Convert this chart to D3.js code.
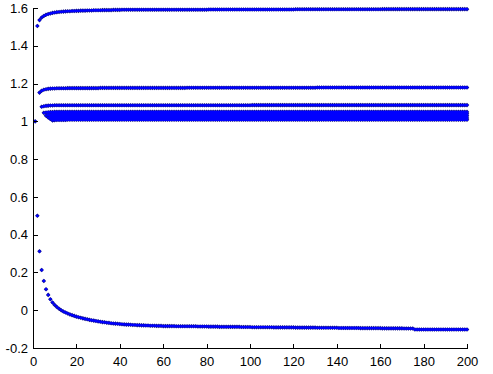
<!DOCTYPE html>
<html><head><meta charset="utf-8">
<script src="https://cdn.jsdelivr.net/npm/d3@7"></script>
<style>html,body{margin:0;padding:0;background:#fff;}svg{display:block;}</style>
</head><body><svg id="chart" width="493" height="374"></svg>
<script>
// Tick values and labels
const xTicks = [0,20,40,60,80,100,120,140,160,180,200];
const xTickLabels = ["0","20","40","60","80","100","120","140","160","180","200"];
const yTicks = [-0.2,0,0.2,0.4,0.6,0.8,1,1.2,1.4,1.6];
const yTickLabels = ["-0.2","0","0.2","0.4","0.6","0.8","1","1.2","1.4","1.6"];

// First x index of each series (values continue to x = 200)
const seriesStart = [1,2,3,4,5,6,7,8,9,2];

const vAt1 = [1.000];
const vTop = [
1.505,1.536,1.550,1.558,1.564,1.568,1.571,1.574,1.576,
1.578,1.579,1.580,1.581,1.582,1.583,1.583,1.584,1.584,1.585,
1.585,1.586,1.586,1.586,1.587,1.587,1.587,1.588,1.588,1.588,
1.588,1.589,1.589,1.589,1.589,1.589,1.590,1.590,1.590,1.590,
1.591,1.591,1.591,1.591,1.591,1.591,1.591,1.591,1.591,1.591,
1.591,1.591,1.591,1.591,1.591,1.591,1.591,1.591,1.591,1.591,
1.591,1.591,1.591,1.591,1.591,1.591,1.591,1.591,1.591,1.591,
1.591,1.591,1.591,1.591,1.591,1.591,1.591,1.591,1.591,1.591,
1.592,1.592,1.592,1.592,1.592,1.592,1.592,1.592,1.592,1.592,
1.592,1.592,1.592,1.592,1.592,1.592,1.592,1.592,1.592,1.592,
1.592,1.592,1.592,1.592,1.592,1.592,1.592,1.592,1.592,1.592,
1.592,1.592,1.592,1.592,1.592,1.592,1.592,1.592,1.592,1.592,
1.593,1.593,1.593,1.593,1.593,1.593,1.593,1.593,1.593,1.593,
1.593,1.593,1.593,1.593,1.593,1.593,1.593,1.593,1.593,1.593,
1.593,1.593,1.593,1.593,1.593,1.593,1.593,1.593,1.593,1.593,
1.593,1.593,1.593,1.593,1.593,1.593,1.593,1.593,1.593,1.593,
1.594,1.594,1.594,1.594,1.594,1.594,1.594,1.594,1.594,1.594,
1.594,1.594,1.594,1.594,1.594,1.594,1.594,1.594,1.594,1.594,
1.594,1.594,1.594,1.594,1.594,1.594,1.594,1.594,1.594,1.594,
1.594,1.594,1.594,1.594,1.594,1.594,1.594,1.594,1.594,1.594];
const vS2 = [
1.152,1.162,1.167,1.170,1.172,1.173,1.174,1.174,
1.175,1.175,1.175,1.175,1.175,1.176,1.176,1.176,1.176,1.176,
1.176,1.176,1.176,1.176,1.176,1.176,1.176,1.176,1.176,1.176,
1.177,1.177,1.177,1.177,1.177,1.177,1.177,1.177,1.177,1.177,
1.177,1.177,1.177,1.177,1.177,1.177,1.177,1.177,1.177,1.177,
1.177,1.177,1.177,1.177,1.177,1.177,1.177,1.177,1.177,1.177,
1.177,1.177,1.177,1.177,1.177,1.177,1.177,1.177,1.177,1.177,
1.178,1.178,1.178,1.178,1.178,1.178,1.178,1.178,1.178,1.178,
1.178,1.178,1.178,1.178,1.178,1.178,1.178,1.178,1.178,1.178,
1.178,1.178,1.178,1.178,1.178,1.178,1.178,1.178,1.178,1.178,
1.178,1.178,1.178,1.178,1.178,1.178,1.178,1.178,1.178,1.178,
1.178,1.178,1.178,1.178,1.178,1.178,1.178,1.178,1.178,1.178,
1.178,1.178,1.178,1.178,1.178,1.178,1.178,1.178,1.178,1.178,
1.179,1.179,1.179,1.179,1.179,1.179,1.179,1.179,1.179,1.179,
1.179,1.179,1.179,1.179,1.179,1.179,1.179,1.179,1.179,1.179,
1.179,1.179,1.179,1.179,1.179,1.179,1.179,1.179,1.179,1.179,
1.179,1.179,1.179,1.179,1.179,1.179,1.179,1.179,1.179,1.179,
1.179,1.179,1.179,1.179,1.179,1.179,1.179,1.179,1.179,1.179,
1.179,1.179,1.179,1.179,1.179,1.179,1.179,1.179,1.179,1.179,
1.179,1.179,1.179,1.179,1.179,1.179,1.179,1.179,1.179,1.179];
const vS3 = [
1.077,1.080,1.082,1.083,1.084,1.084,1.085,
1.085,1.085,1.085,1.085,1.085,1.085,1.085,1.085,1.085,1.085,
1.085,1.085,1.085,1.085,1.085,1.085,1.085,1.085,1.085,1.085,
1.085,1.085,1.085,1.085,1.085,1.085,1.085,1.085,1.085,1.085,
1.085,1.085,1.085,1.085,1.085,1.085,1.085,1.085,1.085,1.085,
1.085,1.085,1.085,1.085,1.085,1.085,1.085,1.085,1.085,1.085,
1.085,1.085,1.085,1.085,1.085,1.085,1.085,1.085,1.085,1.085,
1.085,1.085,1.085,1.085,1.085,1.085,1.085,1.085,1.085,1.085,
1.085,1.085,1.085,1.085,1.085,1.085,1.085,1.085,1.085,1.085,
1.085,1.085,1.085,1.085,1.085,1.085,1.085,1.085,1.085,1.085,
1.086,1.086,1.086,1.086,1.086,1.086,1.086,1.086,1.086,1.086,
1.086,1.086,1.086,1.086,1.086,1.086,1.086,1.086,1.086,1.086,
1.086,1.086,1.086,1.086,1.086,1.086,1.086,1.086,1.086,1.086,
1.086,1.086,1.086,1.086,1.086,1.086,1.086,1.086,1.086,1.086,
1.086,1.086,1.086,1.086,1.086,1.086,1.086,1.086,1.086,1.086,
1.086,1.086,1.086,1.086,1.086,1.086,1.086,1.086,1.086,1.086,
1.086,1.086,1.086,1.086,1.086,1.086,1.086,1.086,1.086,1.086,
1.086,1.086,1.086,1.086,1.086,1.086,1.086,1.086,1.086,1.086,
1.086,1.086,1.086,1.086,1.086,1.086,1.086,1.086,1.086,1.086,
1.086,1.086,1.086,1.086,1.086,1.086,1.086,1.086,1.086,1.086];
const vB1 = [
1.045,1.047,1.048,1.049,1.049,1.050,
1.050,1.050,1.050,1.050,1.050,1.050,1.050,1.050,1.050,1.050,
1.050,1.050,1.050,1.050,1.050,1.050,1.050,1.050,1.050,1.050,
1.050,1.050,1.050,1.050,1.050,1.050,1.050,1.050,1.050,1.050,
1.050,1.050,1.050,1.050,1.050,1.050,1.050,1.050,1.050,1.050,
1.050,1.050,1.050,1.050,1.050,1.050,1.050,1.050,1.050,1.050,
1.050,1.050,1.050,1.050,1.050,1.050,1.050,1.050,1.050,1.050,
1.050,1.050,1.050,1.050,1.050,1.050,1.050,1.050,1.050,1.050,
1.050,1.050,1.050,1.050,1.050,1.050,1.050,1.050,1.050,1.050,
1.050,1.050,1.050,1.050,1.050,1.050,1.050,1.050,1.050,1.050,
1.050,1.050,1.050,1.050,1.050,1.050,1.050,1.050,1.050,1.050,
1.050,1.050,1.050,1.050,1.050,1.050,1.050,1.050,1.050,1.050,
1.050,1.050,1.050,1.050,1.050,1.050,1.050,1.050,1.050,1.050,
1.050,1.050,1.050,1.050,1.050,1.050,1.050,1.050,1.050,1.050,
1.050,1.050,1.050,1.050,1.050,1.050,1.050,1.050,1.050,1.050,
1.050,1.050,1.050,1.050,1.050,1.050,1.050,1.050,1.050,1.050,
1.050,1.050,1.050,1.050,1.050,1.050,1.050,1.050,1.050,1.050,
1.050,1.050,1.050,1.050,1.050,1.050,1.050,1.050,1.050,1.050,
1.050,1.050,1.050,1.050,1.050,1.050,1.050,1.050,1.050,1.050,
1.050,1.050,1.050,1.050,1.050,1.050,1.050,1.050,1.050,1.050];
const vB2 = [
1.030,1.034,1.036,1.037,1.038,
1.039,1.039,1.039,1.039,1.039,1.040,1.040,1.040,1.040,1.040,
1.040,1.040,1.040,1.040,1.040,1.040,1.040,1.040,1.040,1.040,
1.040,1.040,1.040,1.040,1.040,1.040,1.040,1.040,1.040,1.040,
1.040,1.040,1.040,1.040,1.040,1.040,1.040,1.040,1.040,1.040,
1.040,1.040,1.040,1.040,1.040,1.040,1.040,1.040,1.040,1.040,
1.040,1.040,1.040,1.040,1.040,1.040,1.040,1.040,1.040,1.040,
1.040,1.040,1.040,1.040,1.040,1.040,1.040,1.040,1.040,1.040,
1.040,1.040,1.040,1.040,1.040,1.040,1.040,1.040,1.040,1.040,
1.040,1.040,1.040,1.040,1.040,1.040,1.040,1.040,1.040,1.040,
1.040,1.040,1.040,1.040,1.040,1.040,1.040,1.040,1.040,1.040,
1.040,1.040,1.040,1.040,1.040,1.040,1.040,1.040,1.040,1.040,
1.040,1.040,1.040,1.040,1.040,1.040,1.040,1.040,1.040,1.040,
1.040,1.040,1.040,1.040,1.040,1.040,1.040,1.040,1.040,1.040,
1.040,1.040,1.040,1.040,1.040,1.040,1.040,1.040,1.040,1.040,
1.040,1.040,1.040,1.040,1.040,1.040,1.040,1.040,1.040,1.040,
1.040,1.040,1.040,1.040,1.040,1.040,1.040,1.040,1.040,1.040,
1.040,1.040,1.040,1.040,1.040,1.040,1.040,1.040,1.040,1.040,
1.040,1.040,1.040,1.040,1.040,1.040,1.040,1.040,1.040,1.040,
1.040,1.040,1.040,1.040,1.040,1.040,1.040,1.040,1.040,1.040];
const vB3 = [
1.020,1.023,1.025,1.026,
1.027,1.027,1.027,1.027,1.027,1.028,1.028,1.028,1.028,1.028,
1.029,1.029,1.029,1.029,1.029,1.029,1.029,1.029,1.029,1.029,
1.029,1.029,1.029,1.029,1.029,1.029,1.029,1.029,1.029,1.029,
1.029,1.029,1.029,1.029,1.029,1.029,1.029,1.029,1.029,1.029,
1.029,1.029,1.029,1.029,1.029,1.029,1.029,1.029,1.029,1.029,
1.029,1.029,1.029,1.029,1.029,1.029,1.029,1.029,1.029,1.029,
1.029,1.029,1.029,1.029,1.029,1.029,1.029,1.029,1.029,1.029,
1.029,1.029,1.029,1.029,1.029,1.029,1.029,1.029,1.029,1.029,
1.029,1.029,1.029,1.029,1.029,1.029,1.029,1.029,1.029,1.029,
1.029,1.029,1.029,1.029,1.029,1.029,1.029,1.029,1.029,1.029,
1.029,1.029,1.029,1.029,1.029,1.029,1.029,1.029,1.029,1.029,
1.029,1.029,1.029,1.029,1.029,1.029,1.029,1.029,1.029,1.029,
1.029,1.029,1.029,1.029,1.029,1.029,1.029,1.029,1.029,1.029,
1.029,1.029,1.029,1.029,1.029,1.029,1.029,1.029,1.029,1.029,
1.029,1.029,1.029,1.029,1.029,1.029,1.029,1.029,1.029,1.029,
1.029,1.029,1.029,1.029,1.029,1.029,1.029,1.029,1.029,1.029,
1.029,1.029,1.029,1.029,1.029,1.029,1.029,1.029,1.029,1.029,
1.029,1.029,1.029,1.029,1.029,1.029,1.029,1.029,1.029,1.029,
1.029,1.029,1.029,1.029,1.029,1.029,1.029,1.029,1.029,1.029];
const vB4 = [
1.012,1.014,1.015,
1.016,1.016,1.016,1.016,1.016,1.017,1.017,1.017,1.017,1.017,
1.018,1.018,1.018,1.018,1.018,1.018,1.018,1.018,1.018,1.018,
1.018,1.018,1.018,1.018,1.018,1.018,1.018,1.018,1.018,1.018,
1.018,1.018,1.018,1.018,1.018,1.018,1.018,1.018,1.018,1.018,
1.018,1.018,1.018,1.018,1.018,1.018,1.018,1.018,1.018,1.018,
1.018,1.018,1.018,1.018,1.018,1.018,1.018,1.018,1.018,1.018,
1.018,1.018,1.018,1.018,1.018,1.018,1.018,1.018,1.018,1.018,
1.018,1.018,1.018,1.018,1.018,1.018,1.018,1.018,1.018,1.018,
1.018,1.018,1.018,1.018,1.018,1.018,1.018,1.018,1.018,1.018,
1.018,1.018,1.018,1.018,1.018,1.018,1.018,1.018,1.018,1.018,
1.018,1.018,1.018,1.018,1.018,1.018,1.018,1.018,1.018,1.018,
1.018,1.018,1.018,1.018,1.018,1.018,1.018,1.018,1.018,1.018,
1.018,1.018,1.018,1.018,1.018,1.018,1.018,1.018,1.018,1.018,
1.018,1.018,1.018,1.018,1.018,1.018,1.018,1.018,1.018,1.018,
1.018,1.018,1.018,1.018,1.018,1.018,1.018,1.018,1.018,1.018,
1.018,1.018,1.018,1.018,1.018,1.018,1.018,1.018,1.018,1.018,
1.018,1.018,1.018,1.018,1.018,1.018,1.018,1.018,1.018,1.018,
1.018,1.018,1.018,1.018,1.018,1.018,1.018,1.018,1.018,1.018,
1.018,1.018,1.018,1.018,1.018,1.018,1.018,1.018,1.018,1.018];
const vB5 = [
1.005,1.006,
1.007,1.007,1.007,1.007,1.007,1.008,1.008,1.008,1.008,1.008,
1.008,1.008,1.008,1.008,1.008,1.008,1.008,1.008,1.008,1.008,
1.008,1.008,1.008,1.008,1.008,1.008,1.008,1.008,1.008,1.008,
1.008,1.008,1.008,1.008,1.008,1.008,1.008,1.008,1.008,1.008,
1.008,1.008,1.008,1.008,1.008,1.008,1.008,1.008,1.008,1.008,
1.008,1.008,1.008,1.008,1.008,1.008,1.008,1.008,1.008,1.008,
1.008,1.008,1.008,1.008,1.008,1.008,1.008,1.008,1.008,1.008,
1.008,1.008,1.008,1.008,1.008,1.008,1.008,1.008,1.008,1.008,
1.008,1.008,1.008,1.008,1.008,1.008,1.008,1.008,1.008,1.008,
1.008,1.008,1.008,1.008,1.008,1.008,1.008,1.008,1.008,1.008,
1.008,1.008,1.008,1.008,1.008,1.008,1.008,1.008,1.008,1.008,
1.008,1.008,1.008,1.008,1.008,1.008,1.008,1.008,1.008,1.008,
1.008,1.008,1.008,1.008,1.008,1.008,1.008,1.008,1.008,1.008,
1.008,1.008,1.008,1.008,1.008,1.008,1.008,1.008,1.008,1.008,
1.008,1.008,1.008,1.008,1.008,1.008,1.008,1.008,1.008,1.008,
1.008,1.008,1.008,1.008,1.008,1.008,1.008,1.008,1.008,1.008,
1.008,1.008,1.008,1.008,1.008,1.008,1.008,1.008,1.008,1.008,
1.008,1.008,1.008,1.008,1.008,1.008,1.008,1.008,1.008,1.008,
1.008,1.008,1.008,1.008,1.008,1.008,1.008,1.008,1.008,1.008];
const vLow = [
0.500,0.312,0.213,0.155,0.111,0.081,0.058,0.041,0.028,
0.017,0.008,0.000,-0.007,-0.012,-0.017,-0.022,-0.026,-0.030,-0.034,
-0.037,-0.040,-0.043,-0.046,-0.048,-0.051,-0.053,-0.055,-0.057,-0.059,
-0.061,-0.063,-0.064,-0.066,-0.067,-0.069,-0.070,-0.071,-0.072,-0.073,
-0.074,-0.075,-0.076,-0.076,-0.077,-0.078,-0.078,-0.079,-0.079,-0.080,
-0.080,-0.081,-0.081,-0.082,-0.082,-0.082,-0.083,-0.083,-0.083,-0.084,
-0.084,-0.084,-0.084,-0.084,-0.084,-0.085,-0.085,-0.085,-0.085,-0.085,
-0.085,-0.085,-0.085,-0.085,-0.085,-0.086,-0.086,-0.086,-0.086,-0.086,
-0.087,-0.087,-0.087,-0.087,-0.087,-0.088,-0.088,-0.088,-0.088,-0.088,
-0.088,-0.088,-0.088,-0.088,-0.088,-0.089,-0.089,-0.089,-0.089,-0.089,
-0.090,-0.090,-0.090,-0.090,-0.090,-0.090,-0.090,-0.090,-0.090,-0.090,
-0.091,-0.091,-0.091,-0.091,-0.091,-0.091,-0.091,-0.091,-0.091,-0.091,
-0.092,-0.092,-0.092,-0.092,-0.092,-0.092,-0.092,-0.092,-0.092,-0.092,
-0.093,-0.093,-0.093,-0.093,-0.093,-0.093,-0.093,-0.093,-0.093,-0.093,
-0.094,-0.094,-0.094,-0.094,-0.094,-0.094,-0.094,-0.094,-0.094,-0.094,
-0.095,-0.095,-0.095,-0.095,-0.095,-0.095,-0.095,-0.095,-0.095,-0.095,
-0.096,-0.096,-0.096,-0.096,-0.096,-0.096,-0.096,-0.096,-0.096,-0.096,
-0.097,-0.097,-0.097,-0.097,-0.097,-0.102,-0.102,-0.102,-0.102,-0.102,
-0.102,-0.102,-0.102,-0.102,-0.102,-0.102,-0.102,-0.102,-0.102,-0.102,
-0.102,-0.102,-0.102,-0.102,-0.102,-0.102,-0.102,-0.102,-0.102,-0.102];

const seriesValues = [vAt1, vTop, vS2, vS3, vB1, vB2, vB3, vB4, vB5, vLow];

// ---- drawing ----
const svg = d3.select("#chart");
const plot = {left: 33, right: 467, top: 8, bottom: 348};

const x = d3.scaleLinear().domain([0, 200]).range([plot.left, plot.right]);
const y = d3.scaleLinear().domain([-0.2, 1.6]).range([plot.bottom, plot.top]);

const points = [];
seriesValues.forEach((vals, si) => {
  vals.forEach((v, i) => {
    const xi = seriesStart[si] + i;
    if (xi <= 200) points.push({x: xi, y: v});
  });
});

function diamond(cx, cy, r) {
  return `M${cx},${cy - r}L${cx + r},${cy}L${cx},${cy + r}L${cx - r},${cy}Z`;
}
function square(cx, cy, h) {
  return `M${cx - h},${cy - h}h${2 * h}v${2 * h}h${-2 * h}Z`;
}

svg.append("path")
  .attr("d", points.map(p => diamond(x(p.x), y(p.y), 2.3)).join(""))
  .attr("fill", "#12128a");
svg.append("path")
  .attr("d", points.map(p => square(x(p.x), y(p.y), 1.15)).join(""))
  .attr("fill", "#0000ff");

const fontFamily = "'Liberation Sans Narrow','Arial Narrow','Liberation Sans',Arial,sans-serif";

const xAxis = d3.axisBottom(x)
  .tickValues(xTicks)
  .tickFormat((d, i) => xTickLabels[i])
  .tickSizeInner(-4.5)
  .tickSizeOuter(0)
  .tickPadding(8.5);
const yAxis = d3.axisLeft(y)
  .tickValues(yTicks)
  .tickFormat((d, i) => yTickLabels[i])
  .tickSizeInner(-4.5)
  .tickSizeOuter(0)
  .tickPadding(5);

const gx = svg.append("g").attr("transform", `translate(0,${plot.bottom})`).call(xAxis);
const gy = svg.append("g").attr("transform", `translate(${plot.left},0)`).call(yAxis);

[gx, gy].forEach(g => {
  g.selectAll("path.domain").attr("stroke", "#000").attr("stroke-width", 1).attr("shape-rendering", "crispEdges");
  g.selectAll(".tick line").attr("stroke", "#000").attr("shape-rendering", "crispEdges");
  g.selectAll(".tick text").attr("fill", "#000")
    .style("font-family", fontFamily).style("font-size", "13px");
});
</script>
</body></html>
